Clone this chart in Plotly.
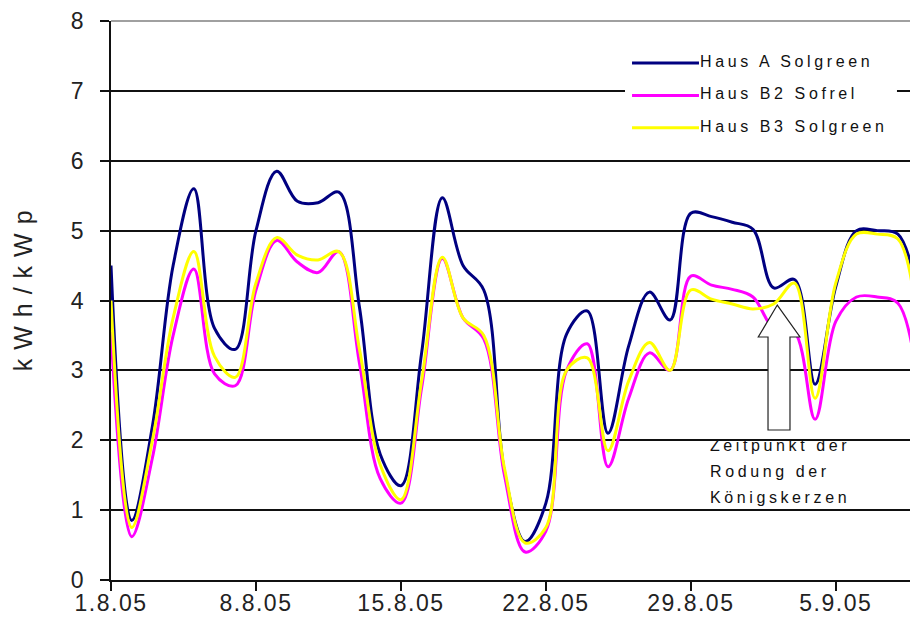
import pandas as pd
import plotly.graph_objects as go

# Daily specific yield, 1 Aug 2005 onwards (kWh per kWp)
dates = pd.date_range("2005-08-01", periods=40, freq="D")

haus_a_solgreen = [4.5, 0.85, 2.2, 4.5, 5.6, 3.6, 3.3, 5.0, 5.85, 5.42,
                   5.4, 5.55, 3.9, 1.8, 1.35, 3.25, 5.47, 4.5, 4.15, 1.55,
                   0.55, 1.1, 3.52, 3.85, 2.1, 3.35, 4.12, 3.72, 5.25, 5.2,
                   5.12, 5.02, 4.18, 4.3, 2.8, 4.2, 5.0, 5.0, 4.95, 4.0]
haus_b2_sofrel = [3.55, 0.62, 1.75, 3.5, 4.45, 2.95, 2.78, 4.15, 4.86, 4.55,
                  4.4, 4.7, 3.1, 1.45, 1.1, 2.75, 4.6, 3.75, 3.45, 1.5,
                  0.4, 0.7, 3.0, 3.38, 1.62, 2.6, 3.25, 3.0, 4.35, 4.22,
                  4.16, 4.05, 3.6, 3.55, 2.3, 3.7, 4.05, 4.05, 3.96, 2.7]
haus_b3_solgreen = [4.0, 0.75, 2.0, 3.75, 4.7, 3.2, 2.9, 4.25, 4.9, 4.65,
                    4.58, 4.7, 3.3, 1.65, 1.15, 2.85, 4.62, 3.75, 3.5, 1.6,
                    0.53, 0.75, 3.0, 3.18, 1.85, 2.85, 3.4, 3.0, 4.15, 4.02,
                    3.95, 3.88, 3.95, 4.25, 2.6, 4.25, 4.95, 4.95, 4.88, 3.5]

series_names = ["Haus A Solgreen", "Haus B2 Sofrel", "Haus B3 Solgreen"]
series_values = [haus_a_solgreen, haus_b2_sofrel, haus_b3_solgreen]
series_colors = ["#000080", "#FF00FF", "#FFFF00"]

tick_labels = ["1.8.05", "8.8.05", "15.8.05", "22.8.05", "29.8.05", "5.9.05"]
tick_dates = pd.date_range("2005-08-01", periods=len(tick_labels), freq="7D")

y_title = "kWh/kWp"
note_lines = ["Zeitpunkt der", "Rodung der", "Königskerzen"]

FONT = "Liberation Sans, Arial, sans-serif"

fig = go.Figure()
for name, vals, col in zip(series_names, series_values, series_colors):
    fig.add_trace(go.Scatter(
        x=dates, y=vals, name=name, mode="lines",
        line=dict(color=col, width=3, shape="spline", smoothing=1.0),
        showlegend=False,
    ))

shapes = []
annotations = []

# white panel behind the legend (hides the 7-gridline there)
shapes.append(dict(type="rect", xref="paper", yref="paper",
                   x0=0.6433, x1=0.9837, y0=0.778, y1=0.966,
                   fillcolor="white", line=dict(width=0), layer="above"))

# legend: line samples + labels
legend_line_y = [0.9249, 0.8667, 0.8091]
legend_text_y = [0.9272, 0.8707, 0.8109]
for name, col, ly, ty in zip(series_names, series_colors, legend_line_y, legend_text_y):
    shapes.append(dict(type="line", xref="paper", yref="paper",
                       x0=0.6521, x1=0.7359, y0=ly, y1=ly,
                       line=dict(color=col, width=3), layer="above"))
    annotations.append(dict(xref="paper", yref="paper", x=0.7360, y=ty,
                            xanchor="left", yanchor="middle", align="left",
                            showarrow=False, borderpad=0,
                            text=name, font=dict(family=FONT, size=16, color="#111")))

# grey frame line at the top of the plot area
shapes.append(dict(type="line", xref="paper", yref="paper",
                   x0=0, x1=1, y0=1, y1=1,
                   line=dict(color="#A0A0A0", width=2), layer="above"))

# block arrow pointing at the clearing date
arrow_path = ("M0.8339,0.4919 L0.8623,0.4347 L0.8498,0.4347 L0.8498,0.2683 "
              "L0.8223,0.2683 L0.8223,0.4347 L0.8101,0.4347 Z")
shapes.append(dict(type="path", xref="paper", yref="paper", path=arrow_path,
                   fillcolor="white", line=dict(color="#222", width=1.2),
                   layer="above"))

for txt, ty in zip(note_lines, [0.2415, 0.1937, 0.1467]):
    annotations.append(dict(xref="paper", yref="paper", x=0.7485, y=ty,
                            xanchor="left", yanchor="middle", align="left",
                            showarrow=False, borderpad=0,
                            text=txt, font=dict(family=FONT, size=16, color="#111")))

# y-axis title
annotations.append(dict(xref="paper", yref="paper", x=-0.1110, y=0.525,
                        xanchor="center", yanchor="middle", showarrow=False,
                        textangle=-90, text=y_title,
                        font=dict(family=FONT, size=25, color="#222")))

fig.update_layout(
    width=910, height=635,
    margin=dict(l=111, r=0, t=21, b=55, pad=0),
    paper_bgcolor="white", plot_bgcolor="white",
    font=dict(family=FONT, color="#222"),
    shapes=shapes, annotations=annotations,
    showlegend=False,
)
fig.update_xaxes(
    type="date", range=["2005-08-01", "2005-09-08 14:00"],
    tickvals=list(tick_dates), ticktext=tick_labels,
    ticks="outside", ticklen=9, tickwidth=1.5, tickcolor="#111",
    showline=True, linecolor="#111", linewidth=1.5,
    showgrid=False, zeroline=False,
    ticklabelstandoff=-7,
    tickfont=dict(family=FONT, size=23, color="#222"),
)
fig.update_yaxes(
    range=[0, 8], tickvals=list(range(0, 9)),
    ticks="outside", ticklen=9, tickwidth=1.5, tickcolor="#111",
    showline=True, linecolor="#111", linewidth=1.5,
    showgrid=True, gridcolor="#111", gridwidth=1.5, zeroline=False,
    ticklabelstandoff=12,
    tickfont=dict(family=FONT, size=23, color="#222"),
)

post = """
var gd = document.getElementById('{plot_id}');
function applySpacing(){
  gd.querySelectorAll('.annotation-text').forEach(function(t){
    t.style.letterSpacing = (t.textContent === 'kWh/kWp') ? '9px' : '3.6px';
  });
  gd.querySelectorAll('.xtick text').forEach(function(t){ t.style.letterSpacing = '1.5px'; });
}
applySpacing();
gd.on('plotly_afterplot', applySpacing);
"""

fig.write_html("out.html", post_script=post)
